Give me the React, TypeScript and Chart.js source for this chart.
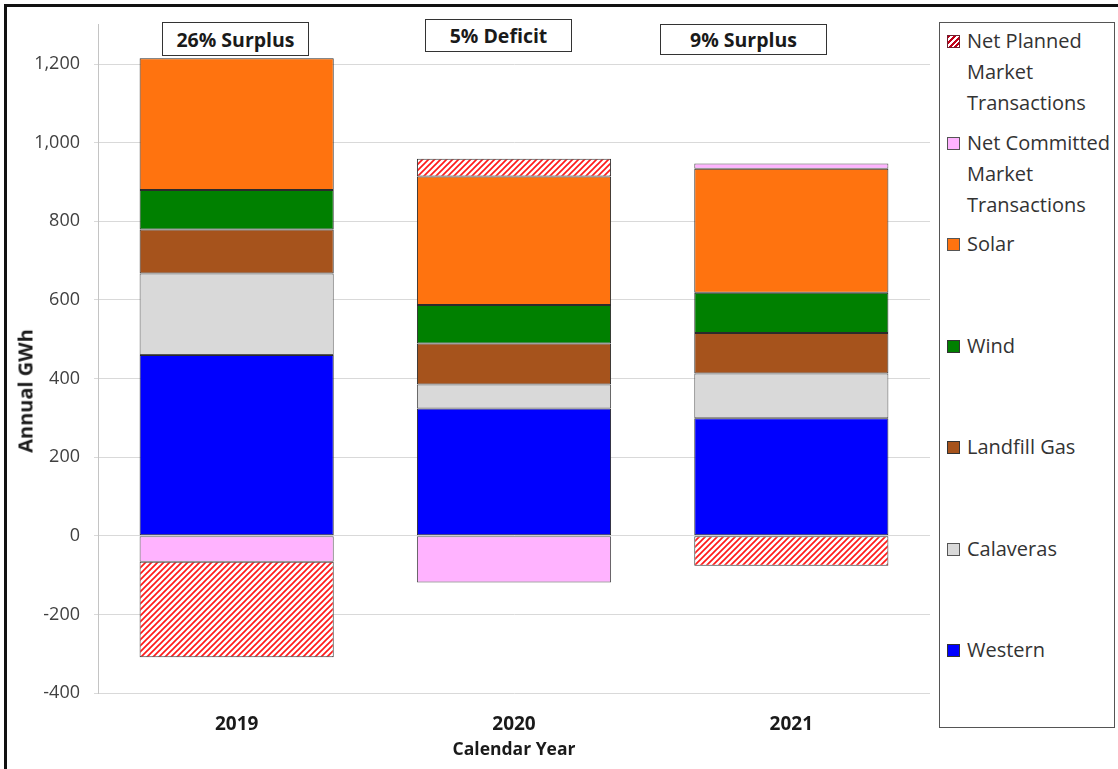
import React, { useEffect, useRef } from "react";
import { Chart, registerables } from "chart.js";

Chart.register(...registerables);

// Calendar years on the category axis
const years = ["2019", "2020", "2021"];

// Annual energy by resource, GWh (stacked bottom-up in this order)
const western = [460, 324, 299];
const calaveras = [207, 61, 114];
const landfillGas = [112, 104, 103];
const wind = [101, 98, 102];
const solar = [335, 327, 316];
const netCommitted = [-66, -119, 13];
const netPlanned = [-243, 45, -76];

// Surplus / deficit call-outs above each year
const balanceLabels = ["26% Surplus", "5% Deficit", "9% Surplus"];

// Value axis
const yMin = -400;
const yMax = 1300;
const yTicks = [-400, -200, 0, 200, 400, 600, 800, 1000, 1200];

const FONT = "'Open Sans', Lato, sans-serif";

const COLORS = {
  western: "#0000FF",
  calaveras: "#D9D9D9",
  landfill: "#A6531C",
  wind: "#008000",
  solar: "#FF730F",
  committed: "#FFB3FF",
  planned: "#FF1A1A",
};

const legendItems: { label: string[]; swatch: React.CSSProperties }[] = [
  {
    label: ["Net Planned", "Market", "Transactions"],
    swatch: {
      background: "repeating-linear-gradient(135deg, #c00018 0 2px, #ffffff 2px 4px)",
      border: "1px solid #702030",
    },
  },
  {
    label: ["Net Committed", "Market", "Transactions"],
    swatch: { background: COLORS.committed, border: "1px solid #555" },
  },
  { label: ["Solar"], swatch: { background: COLORS.solar, border: "1px solid #555" } },
  { label: ["Wind"], swatch: { background: COLORS.wind, border: "1px solid #333" } },
  { label: ["Landfill Gas"], swatch: { background: COLORS.landfill, border: "1px solid #333" } },
  { label: ["Calaveras"], swatch: { background: COLORS.calaveras, border: "1px solid #555" } },
  { label: ["Western"], swatch: { background: COLORS.western, border: "1px solid #333" } },
];

const calloutBoxes: React.CSSProperties[] = [
  { left: 162, top: 22, width: 147, height: 34 },
  { left: 425, top: 19, width: 147, height: 33 },
  { left: 660, top: 24, width: 167, height: 31 },
];

export default function App() {
  const canvasRef = useRef<HTMLCanvasElement>(null);

  useEffect(() => {
    const canvas = canvasRef.current;
    if (!canvas) return;

    // red-on-white diagonal hatch for planned market transactions
    const tile = document.createElement("canvas");
    tile.width = 6;
    tile.height = 6;
    const tc = tile.getContext("2d")!;
    tc.fillStyle = "#ffffff";
    tc.fillRect(0, 0, 6, 6);
    tc.strokeStyle = COLORS.planned;
    tc.lineWidth = 1.7;
    tc.beginPath();
    tc.moveTo(-1, 7);
    tc.lineTo(7, -1);
    tc.moveTo(-1, 1);
    tc.lineTo(1, -1);
    tc.moveTo(5, 7);
    tc.lineTo(7, 5);
    tc.stroke();
    const hatch = canvas.getContext("2d")!.createPattern(tile, "repeat")!;

    const ds = (label: string, data: number[], bg: any, border = "#2b2b2b") => ({
      label,
      data,
      backgroundColor: bg,
      borderColor: border,
      borderWidth: 1,
      borderSkipped: false as const,
    });

    const chart = new Chart(canvas, {
      type: "bar",
      data: {
        labels: years,
        datasets: [
          ds("Western", western, COLORS.western),
          ds("Calaveras", calaveras, COLORS.calaveras, "#555"),
          ds("Landfill Gas", landfillGas, COLORS.landfill),
          ds("Wind", wind, COLORS.wind),
          ds("Solar", solar, COLORS.solar),
          ds("Net Committed Market Transactions", netCommitted, COLORS.committed, "#555"),
          ds("Net Planned Market Transactions", netPlanned, hatch, "#333"),
        ],
      },
      options: {
        animation: false,
        responsive: false,
        maintainAspectRatio: false,
        devicePixelRatio: 1,
        layout: { padding: { top: 23, right: 5, bottom: 4, left: 0 } },
        plugins: {
          legend: { display: false },
          tooltip: { enabled: false },
        },
        datasets: { bar: { categoryPercentage: 1, barPercentage: 0.7 } },
        scales: {
          x: {
            stacked: true,
            grid: { display: false, drawTicks: false },
            border: { display: false },
            afterFit: (scale: any) => {
              scale.height = 72;
            },
            ticks: {
              padding: 20,
              color: "#1a1a1a",
              font: { family: FONT, size: 19, weight: "bold" },
            },
            title: {
              display: true,
              text: "Calendar Year",
              color: "#1a1a1a",
              font: { family: FONT, size: 17.5, weight: "bold" },
              padding: { top: 4, bottom: 4 },
            },
          },
          y: {
            stacked: true,
            min: yMin,
            max: yMax,
            afterBuildTicks: (scale: any) => {
              scale.ticks = yTicks.map((v) => ({ value: v }));
            },
            afterFit: (scale: any) => {
              scale.width = 98;
            },
            grid: { color: "#d9d9d9", tickLength: 4 },
            border: { color: "#c4c4c4" },
            ticks: {
              padding: 14,
              color: "#404040",
              font: { family: FONT, size: 18 },
              callback: (v: any) => Number(v).toLocaleString("en-US"),
            },
          },
        },
      },
    });

    return () => chart.destroy();
  }, []);

  return (
    <div
      style={{
        position: "fixed",
        left: 0,
        top: 0,
        width: 1118,
        height: 769,
        background: "#ffffff",
        overflow: "hidden",
        fontFamily: FONT,
      }}
    >
      <div
        style={{
          position: "absolute",
          left: 4,
          top: 4,
          right: -10,
          bottom: -10,
          borderLeft: "3px solid #111",
          borderTop: "3px solid #111",
        }}
      />
      <canvas
        ref={canvasRef}
        width={935}
        height={769}
        style={{ position: "absolute", left: 0, top: 0, width: 935, height: 769 }}
      />
      <div
        style={{
          position: "absolute",
          left: 25,
          top: 391,
          transform: "translate(-50%, -50%) rotate(-90deg)",
          whiteSpace: "nowrap",
          fontWeight: "bold",
          fontSize: 20,
          color: "#1a1a1a",
        }}
      >
        Annual GWh
      </div>
      {balanceLabels.map((t, i) => (
        <div
          key={t}
          style={{
            position: "absolute",
            ...calloutBoxes[i],
            boxSizing: "border-box",
            border: "1.5px solid #333",
            background: "#fff",
            display: "flex",
            alignItems: "center",
            justifyContent: "center",
            fontWeight: "bold",
            fontSize: 19.5,
            color: "#1a1a1a",
            whiteSpace: "nowrap",
          }}
        >
          {t}
        </div>
      ))}
      <div
        style={{
          position: "absolute",
          left: 939,
          top: 22,
          width: 176,
          height: 706,
          boxSizing: "border-box",
          border: "1.5px solid #555",
          background: "#fff",
        }}
      >
        {legendItems.map((item, i) => (
          <div
            key={item.label[0]}
            style={{
              position: "absolute",
              left: 7,
              top: 2 + i * 101.5,
              display: "flex",
              alignItems: "flex-start",
            }}
          >
            <div
              style={{
                width: 13,
                height: 13,
                marginTop: 10,
                marginRight: 7,
                boxSizing: "border-box",
                ...item.swatch,
              }}
            />
            <div style={{ fontSize: 20, lineHeight: "31px", color: "#333", whiteSpace: "nowrap" }}>
              {item.label.map((l) => (
                <div key={l}>{l}</div>
              ))}
            </div>
          </div>
        ))}
      </div>
    </div>
  );
}
